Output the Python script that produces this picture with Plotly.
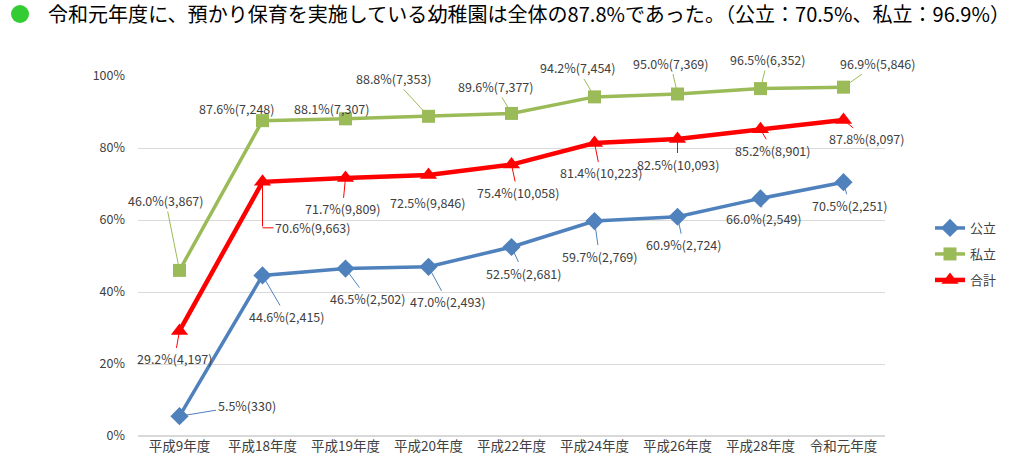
import plotly.graph_objects as go

categories = ["平成9年度", "平成18年度", "平成19年度", "平成20年度", "平成22年度",
              "平成24年度", "平成26年度", "平成28年度", "令和元年度"]
public_rate = [5.5, 44.6, 46.5, 47.0, 52.5, 59.7, 60.9, 66.0, 70.5]
public_count = [330, 2415, 2502, 2493, 2681, 2769, 2724, 2549, 2251]
private_rate = [46.0, 87.6, 88.1, 88.8, 89.6, 94.2, 95.0, 96.5, 96.9]
private_count = [3867, 7248, 7307, 7353, 7377, 7454, 7369, 6352, 5846]
total_rate = [29.2, 70.6, 71.7, 72.5, 75.4, 81.4, 82.5, 85.2, 87.8]
total_count = [4197, 9663, 9809, 9846, 10058, 10223, 10093, 8901, 8097]
y_ticks = [0, 20, 40, 60, 80, 100]

BLUE = "#4F81BD"
GREEN = "#9BBB59"
RED = "#FF0000"
FONT = "Noto Sans CJK JP"
LABEL_COLOR = "#404040"

W, H = 1024, 467
ML, MR, MT, MB = 138, 139, 76, 31
PW, PH = W - ML - MR, H - MT - MB


def px_x(px):
    return (px - ML) / PW


def px_y(py):
    return (H - MB - py) / PH


# label pixel offsets (styling only); "elbow" => elbow leader handled below
pub_off = [(67, -11), (24, 41), (22, 30), (19, 35), (12, 26), (5, 35), (6, 28), (3, 20), (6, 23)]
priv_off = [(-14, -70), (-26, -12), (-14, -10), (-35, -38), (-16, -27), (-17, -29), (-7, -31), (7, -29), (34, -24)]
tot_off = [(-5, 28), "elbow", (-3, 31), (-1, 27), (6, 28), (6, 30), (0, 25), (12, 21), (23, 19)]

fig = go.Figure()
fig.add_trace(go.Scatter(x=categories, y=[v / 100 for v in public_rate], name="公立",
                         mode="lines+markers", line=dict(color=BLUE, width=3.5),
                         marker=dict(symbol="diamond", size=14, color=BLUE),
                         cliponaxis=False, legend="legend"))
fig.add_trace(go.Scatter(x=categories, y=[v / 100 for v in private_rate], name="私立",
                         mode="lines+markers", line=dict(color=GREEN, width=3.5),
                         marker=dict(symbol="square", size=13, color=GREEN),
                         cliponaxis=False, legend="legend2"))
fig.add_trace(go.Scatter(x=categories, y=[v / 100 for v in total_rate], name="合計",
                         mode="lines+markers", line=dict(color=RED, width=4.5),
                         marker=dict(symbol="triangle-up", size=15, color=RED),
                         cliponaxis=False, legend="legend3"))

LBL_FONT = dict(family=FONT, size=12.5, color=LABEL_COLOR)
annotations = []
for rates, counts, offs, col in [(public_rate, public_count, pub_off, BLUE),
                                 (private_rate, private_count, priv_off, GREEN),
                                 (total_rate, total_count, tot_off, RED)]:
    for c, r, n, off in zip(categories, rates, counts, offs):
        txt = f"{r:.1f}%({n:,})"
        if off == "elbow":
            annotations.append(dict(x=c, y=r / 100, xref="x", yref="y", text="",
                                    showarrow=True, arrowhead=0, arrowwidth=1, arrowcolor=col,
                                    ax=0, ay=46, standoff=0))
            annotations.append(dict(x=c, y=r / 100, xref="x", yref="y", text=txt,
                                    yshift=-46, showarrow=True, arrowhead=0, arrowwidth=1,
                                    arrowcolor=col, ax=50, ay=0, standoff=0, font=LBL_FONT))
            continue
        ox, oy = off
        annotations.append(dict(
            x=c, y=r / 100, xref="x", yref="y",
            text=txt, showarrow=True, arrowhead=0, arrowwidth=1,
            arrowcolor=col, ax=ox, ay=oy, standoff=0, startstandoff=0, font=LBL_FONT))

# title
annotations.append(dict(
    x=px_x(46), y=px_y(14), xref="paper", yref="paper",
    xanchor="left", yanchor="middle",
    text="令和元年度に、預かり保育を実施している幼稚園は全体の87.8%であった。（公立：70.5%、私立：96.9%）",
    showarrow=False, font=dict(family=FONT, size=20.05, color="#000000")))

shapes = [dict(type="circle", xref="paper", yref="paper",
               x0=px_x(11), x1=px_x(29), y0=px_y(23), y1=px_y(5),
               fillcolor="#33CC33", line=dict(width=0))]

leg_common = dict(xanchor="left", yanchor="middle", bgcolor="rgba(0,0,0,0)",
                  font=dict(family=FONT, size=13, color=LABEL_COLOR), itemwidth=30)

fig.update_layout(
    width=W, height=H,
    margin=dict(l=ML, r=MR, t=MT, b=MB),
    paper_bgcolor="white", plot_bgcolor="white",
    font=dict(family=FONT, size=12, color=LABEL_COLOR),
    showlegend=True,
    legend=dict(x=px_x(930), y=px_y(228), **leg_common),
    legend2=dict(x=px_x(930), y=px_y(254), **leg_common),
    legend3=dict(x=px_x(930), y=px_y(280), **leg_common),
    annotations=annotations,
    shapes=shapes,
)
fig.update_xaxes(type="category", range=[-0.5, 8.5], showgrid=False, showline=False,
                 ticks="", tickfont=dict(family=FONT, size=13.5, color=LABEL_COLOR))
fig.update_yaxes(range=[0, 1], tickvals=[v / 100 for v in y_ticks],
                 ticktext=[f"{v}%" for v in y_ticks], showgrid=True, gridcolor="#D9D9D9",
                 gridwidth=1, zeroline=True, zerolinecolor="#D9D9D9", showline=False,
                 ticks="", ticklabelstandoff=12,
                 tickfont=dict(family=FONT, size=12.5, color=LABEL_COLOR))

fig.write_html("out.html", config={"displayModeBar": False},
               post_script="document.body.style.margin='0';")
